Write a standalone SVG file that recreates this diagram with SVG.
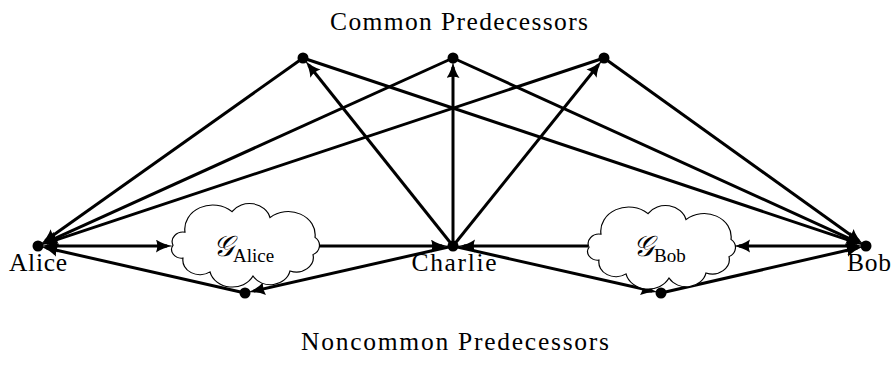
<svg xmlns="http://www.w3.org/2000/svg" width="891" height="378" viewBox="0 0 891 378">
<style>
.e{stroke:#000;stroke-width:3;fill:none;marker-end:url(#ah)}
.b{marker-start:url(#ah)}
.dot{fill:#000}
.cloud{fill:#fff;stroke:#000;stroke-width:1.2}
.lbl{font-family:"Liberation Serif","Times New Roman",serif;font-size:25.5px;fill:#000;text-anchor:middle}
.g{font-family:"DejaVu Serif","Liberation Serif",serif;font-size:29px;font-style:italic}
.sub{font-family:"Liberation Serif","Times New Roman",serif;font-size:19px}
</style>
<defs>
<marker id="ah" markerUnits="userSpaceOnUse" markerWidth="18" markerHeight="14" refX="11" refY="6.5" orient="auto-start-reverse" viewBox="0 0 18 14">
<path d="M0,0 Q7,5 17,6.5 Q7,8 0,13 Q2.5,6.5 0,0 z" fill="#000"/>
</marker>
<path id="cl" d="M-72,-1 A11,11 0 0 1 -60,-16 A28,28 0 0 1 -13,-40 A21,21 0 0 1 25,-33 A27,27 0 0 1 70,-10 A12,12 0 0 1 68,10 A17,17 0 0 1 45,29 A20,20 0 0 1 8,35 A23,23 0 0 1 -35,30 A17,17 0 0 1 -62,14 A10,10 0 0 1 -72,-1 z"/>
</defs>
<g id="connectors">
<line class="e" x1="303" y1="58" x2="45.4" y2="240.8"/>
<line class="e" x1="453" y1="58" x2="46.2" y2="242.3"/>
<line class="e" x1="604" y1="58" x2="46.5" y2="243.1"/>
<line class="e" x1="303" y1="58" x2="857.5" y2="243.1"/>
<line class="e" x1="453" y1="58" x2="857.8" y2="242.3"/>
<line class="e" x1="604" y1="58" x2="858.7" y2="240.8"/>
<line class="e" x1="453" y1="246" x2="308.6" y2="65.0"/>
<line class="e" x1="453" y1="246" x2="453" y2="67"/>
<line class="e" x1="453" y1="246" x2="598.4" y2="65.0"/>
<line class="e" x1="453" y1="246" x2="253.8" y2="291.0"/>
<line class="e" x1="245" y1="293" x2="46.8" y2="248.0"/>
<line class="e" x1="453" y1="246" x2="652.2" y2="291.0"/>
<line class="e" x1="661" y1="293" x2="857.2" y2="248.0"/>
<line class="e b" x1="47" y1="246" x2="167" y2="246"/>
<line class="e" x1="318" y1="246" x2="442" y2="246"/>
<line class="e" x1="588" y1="246" x2="464" y2="246"/>
<line class="e b" x1="739" y1="246" x2="857" y2="246"/>
</g>
<g id="cloud-alice">
<use href="#cl" class="cloud" vector-effect="non-scaling-stroke" transform="translate(245,246) scale(1,0.86)"/>
<text x="213" y="256" class="g">𝒢</text>
<text x="233" y="262" class="sub">Alice</text>
</g>
<g id="cloud-bob">
<use href="#cl" class="cloud" vector-effect="non-scaling-stroke" transform="translate(661,248) scale(1,0.86)"/>
<text x="633" y="256" class="g">𝒢</text>
<text x="654" y="262" class="sub">Bob</text>
</g>
<g id="alice"><circle class="dot" cx="38" cy="246" r="5.5"/><text class="lbl" x="38" y="271" textLength="58">Alice</text></g>
<g id="charlie"><circle class="dot" cx="453" cy="246" r="5.5"/><text class="lbl" x="454" y="271" textLength="85">Charlie</text></g>
<g id="bob"><circle class="dot" cx="866" cy="246" r="5.5"/><text class="lbl" x="869" y="271" textLength="44">Bob</text></g>
<g id="common1"><circle class="dot" cx="303" cy="58" r="5.5"/></g>
<g id="common2"><circle class="dot" cx="453" cy="58" r="5.5"/></g>
<g id="common3"><circle class="dot" cx="604" cy="58" r="5.5"/></g>
<g id="noncommon1"><circle class="dot" cx="245" cy="293" r="5.5"/></g>
<g id="noncommon2"><circle class="dot" cx="661" cy="293" r="5.5"/></g>
<g id="title-common"><text class="lbl" x="459" y="30" textLength="258">Common Predecessors</text></g>
<g id="title-noncommon"><text class="lbl" x="455" y="350" textLength="308">Noncommon Predecessors</text></g>
</svg>
